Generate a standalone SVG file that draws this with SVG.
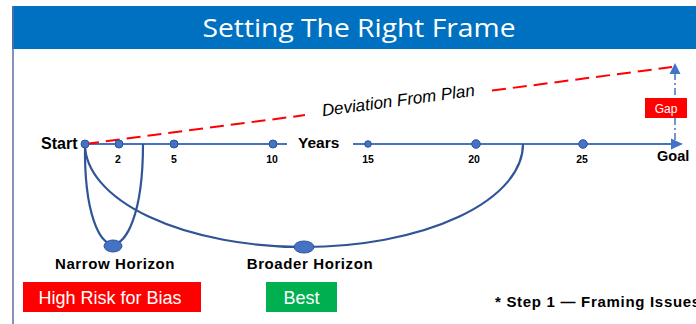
<svg xmlns="http://www.w3.org/2000/svg" width="696" height="324" viewBox="0 0 696 324">
  <defs>
    <style>
      .axis { stroke: #4472C4; stroke-width: 2; fill: none; }
      .curve { stroke: #2F5597; stroke-width: 2.2; fill: none; }
      .dot { fill: #4472C4; stroke: #2F5597; stroke-width: 1; }
      .lbl { font-family: "Liberation Sans", Arial, sans-serif; font-weight: bold; fill: #000; }
      .num { font-family: "Liberation Sans", Arial, sans-serif; font-weight: bold; font-size: 10.5px; fill: #000; text-anchor: middle; }
      .boxtxt { font-family: "Liberation Sans", Arial, sans-serif; font-size: 18px; fill: #fff; text-anchor: middle; }
    </style>
  </defs>
  <rect width="696" height="324" fill="#ffffff"/>

  <g id="title">
    <rect x="12" y="6" width="684" height="43" fill="#0070C0"/>
    <line x1="13" y1="6" x2="13" y2="324" stroke="#5B6FA8" stroke-width="1.5"/>
    <text x="359" y="37" font-family="Open Sans, 'Noto Sans', sans-serif" font-size="26" fill="#ffffff" text-anchor="middle" textLength="313" lengthAdjust="spacingAndGlyphs">Setting The Right Frame</text>
  </g>

  <g id="connectors">
    <line class="axis" x1="85" y1="144" x2="287" y2="144"/>
    <line class="axis" x1="353" y1="144" x2="673" y2="144"/>
    <polygon points="683,144 671,138.5 671,149.5" fill="#4472C4"/>
    <line x1="85" y1="144" x2="305" y2="115.1" stroke="#FF0000" stroke-width="2" stroke-dasharray="14 7"/>
    <line x1="492" y1="90.6" x2="672" y2="67" stroke="#FF0000" stroke-width="2" stroke-dasharray="14 7"/>
    <line x1="675" y1="140" x2="675" y2="73" stroke="#4472C4" stroke-width="1.5" stroke-dasharray="7 3 2 3"/>
    <polygon points="675,63 669.5,74 680.5,74" fill="#4472C4"/>
    <path class="curve" d="M85,144 C84,215 100,244 113,244 C126,244 143,215 143,144"/>
    <path class="curve" d="M85,144 A219,103 0 0 0 523,144"/>
  </g>

  <g id="deviation-label">
    <text x="399" y="106" transform="rotate(-7.6 399 106)" font-family="Liberation Sans, Arial, sans-serif" font-style="italic" font-size="17" fill="#000" text-anchor="middle">Deviation From Plan</text>
  </g>

  <g id="start">
    <circle class="dot" cx="85" cy="144" r="4"/>
    <text class="lbl" x="41" y="149" font-size="16">Start</text>
  </g>
  <g id="year-2"><circle class="dot" cx="119" cy="144" r="4"/><text class="num" x="118" y="163">2</text></g>
  <g id="year-5"><circle class="dot" cx="174" cy="144" r="4"/><text class="num" x="174" y="163">5</text></g>
  <g id="year-10"><circle class="dot" cx="273" cy="144" r="4"/><text class="num" x="272" y="163">10</text></g>
  <g id="years"><text class="lbl" x="298" y="148" font-size="15.5">Years</text></g>
  <g id="year-15"><circle class="dot" cx="368" cy="144" r="3.3"/><text class="num" x="368" y="163">15</text></g>
  <g id="year-20"><circle class="dot" cx="476" cy="144" r="4.3"/><text class="num" x="474" y="163">20</text></g>
  <g id="year-25"><circle class="dot" cx="583" cy="144" r="4.3"/><text class="num" x="582" y="163">25</text></g>
  <g id="goal"><text class="lbl" x="657" y="161" font-size="14.5">Goal</text></g>

  <g id="gap">
    <rect x="645" y="98" width="42" height="20" fill="#FF0000"/>
    <text x="666" y="112.5" font-family="Liberation Sans, Arial, sans-serif" font-size="12" fill="#fff" text-anchor="middle">Gap</text>
  </g>

  <g id="narrow-horizon">
    <ellipse class="dot" cx="113" cy="246" rx="9" ry="6"/>
    <text class="lbl" x="115" y="269" font-size="15" text-anchor="middle" letter-spacing="0.6">Narrow Horizon</text>
  </g>
  <g id="broader-horizon">
    <ellipse class="dot" cx="304" cy="247" rx="10" ry="6"/>
    <text class="lbl" x="310" y="269" font-size="15" text-anchor="middle" letter-spacing="0.6">Broader Horizon</text>
  </g>

  <g id="high-risk">
    <rect x="23" y="282" width="178" height="30" fill="#FF0000"/>
    <text class="boxtxt" x="110" y="303.5">High Risk for Bias</text>
  </g>
  <g id="best">
    <rect x="266" y="282" width="71" height="30" fill="#00B050"/>
    <text class="boxtxt" x="301.5" y="303.5">Best</text>
  </g>

  <g id="note">
    <text class="lbl" x="495" y="307" font-size="15" letter-spacing="0.7">* Step 1 — Framing Issues</text>
  </g>
</svg>
